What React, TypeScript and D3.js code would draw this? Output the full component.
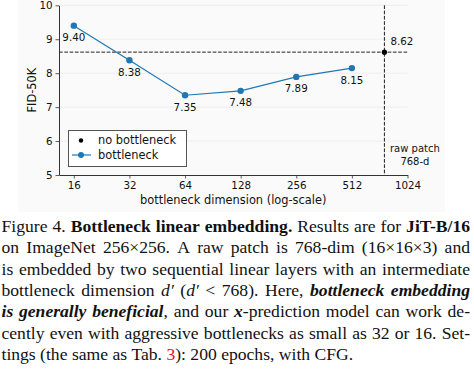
import React, { useRef, useEffect } from "react";
import * as d3 from "d3";

const dims = [16, 32, 64, 128, 256, 512];
const fid = [9.4, 8.38, 7.35, 7.48, 7.89, 8.15];
const rawDim = 768;
const rawFid = 8.62;
const xTicks = [16, 32, 64, 128, 256, 512, 1024];
const yTicks = [5, 6, 7, 8, 9, 10];
const legendLabels = ["no bottleneck", "bottleneck"];

// caption lines: runs of [text, style]  n normal, b bold, i italic, bi bold italic, r red
const captionLines: [string, string][][] = [
  [["Figure 4. ", "n"], ["Bottleneck linear embedding.", "b"], [" Results are for ", "n"], ["JiT-B/16", "b"]],
  [["on ImageNet 256×256. A raw patch is 768-dim (16×16×3) and", "n"]],
  [["is embedded by two sequential linear layers with an intermediate", "n"]],
  [["bottleneck dimension ", "n"], ["d′", "i"], [" (", "n"], ["d′", "i"], [" < 768). Here, ", "n"], ["bottleneck embedding", "bi"]],
  [["is generally beneficial", "bi"], [", and our ", "n"], ["x", "bi"], ["-prediction model can work de-", "n"]],
  [["cently even with aggressive bottlenecks as small as 32 or 16. Set-", "n"]],
  [["tings (the same as Tab. ", "n"], ["3", "r"], ["): 200 epochs, with CFG.", "n"]],
];

const W = 474;
const H = 371;
const blue = "#1f77b4";
const sans = "DejaVu Sans";
const serif = "Liberation Serif";

const App = () => {
  const svgRef = useRef<SVGSVGElement>(null);

  useEffect(() => {
    const svg = d3.select(svgRef.current);
    svg.selectAll("*").remove();

    const left = 59;
    const right = 407.5;
    const top = 5.3;
    const bottom = 175;

    const x = d3.scaleLog().base(2).domain([13.3, 1024]).range([left, right]);
    const y = d3.scaleLinear().domain([5, 10]).range([bottom, top]);

    // faint figure background
    svg.append("rect").attr("x", 18).attr("y", 0).attr("width", 427).attr("height", 212).attr("fill", "#fafafa");

    // grid
    svg
      .append("g")
      .selectAll("line")
      .data(yTicks.slice(1))
      .join("line")
      .attr("x1", left)
      .attr("x2", right)
      .attr("y1", (d) => y(d))
      .attr("y2", (d) => y(d))
      .attr("stroke", "#ebebeb")
      .attr("stroke-width", 0.8);

    // reference dashed lines
    svg
      .append("line")
      .attr("x1", left)
      .attr("x2", right)
      .attr("y1", y(rawFid))
      .attr("y2", y(rawFid))
      .attr("stroke", "#222")
      .attr("stroke-width", 1)
      .attr("stroke-dasharray", "3.7,1.6");
    svg
      .append("line")
      .attr("x1", x(rawDim))
      .attr("x2", x(rawDim))
      .attr("y1", top)
      .attr("y2", bottom)
      .attr("stroke", "#222")
      .attr("stroke-width", 1)
      .attr("stroke-dasharray", "3.7,1.6");

    // axes
    const yAxis = svg
      .append("g")
      .attr("transform", `translate(${left},0)`)
      .call(d3.axisLeft(y).tickValues(yTicks).tickFormat(d3.format("d")).tickSizeInner(3.5).tickSizeOuter(0).tickPadding(3));
    const xAxis = svg
      .append("g")
      .attr("transform", `translate(0,${bottom})`)
      .call(d3.axisBottom(x).tickValues(xTicks).tickFormat(d3.format("d")).tickSizeInner(3.5).tickSizeOuter(0).tickPadding(3));
    [yAxis, xAxis].forEach((a) => {
      a.select(".domain").attr("stroke", "#333").attr("stroke-width", 1);
      a.selectAll(".tick line").attr("stroke", "#333").attr("stroke-width", 0.8);
      a.selectAll(".tick text").attr("font-family", sans).attr("font-size", 10.3).attr("fill", "#111");
    });

    svg
      .append("text")
      .attr("x", (left + right) / 2)
      .attr("y", 203.5)
      .attr("text-anchor", "middle")
      .attr("font-family", sans)
      .attr("font-size", 11.4)
      .attr("fill", "#111")
      .text("bottleneck dimension (log-scale)");
    svg
      .append("text")
      .attr("transform", `translate(36,${(top + bottom) / 2}) rotate(-90)`)
      .attr("text-anchor", "middle")
      .attr("font-family", sans)
      .attr("font-size", 11.4)
      .attr("fill", "#111")
      .text("FID-50K");

    // bottleneck series
    const line = d3
      .line<number>()
      .x((d, i) => x(dims[i]))
      .y((d) => y(d));
    svg.append("path").datum(fid).attr("fill", "none").attr("stroke", blue).attr("stroke-width", 1.2).attr("d", line);
    svg
      .append("g")
      .selectAll("circle")
      .data(fid)
      .join("circle")
      .attr("cx", (d, i) => x(dims[i]))
      .attr("cy", (d) => y(d))
      .attr("r", 3.2)
      .attr("fill", blue);
    svg
      .append("g")
      .selectAll("text")
      .data(fid)
      .join("text")
      .attr("x", (d, i) => x(dims[i]))
      .attr("y", (d) => y(d) + 15.5)
      .attr("text-anchor", "middle")
      .attr("font-family", sans)
      .attr("font-size", 10.3)
      .attr("fill", "#111")
      .text((d) => d.toFixed(2));

    // raw patch point
    svg.append("circle").attr("cx", x(rawDim)).attr("cy", y(rawFid)).attr("r", 2.6).attr("fill", "#000");
    svg
      .append("text")
      .attr("x", x(rawDim) + 6)
      .attr("y", y(rawFid) - 7)
      .attr("font-family", sans)
      .attr("font-size", 10.3)
      .attr("fill", "#111")
      .text(rawFid.toFixed(2));
    const raw = svg
      .append("text")
      .attr("text-anchor", "middle")
      .attr("font-family", sans)
      .attr("font-size", 10)
      .attr("fill", "#111");
    raw.append("tspan").attr("x", x(rawDim) + 30.5).attr("y", 152).text("raw patch");
    raw.append("tspan").attr("x", x(rawDim) + 30.5).attr("y", 164.5).text(`${rawDim}-d`);

    // legend
    const lg = svg.append("g");
    lg.append("rect")
      .attr("x", 68.5)
      .attr("y", 130.5)
      .attr("width", 118)
      .attr("height", 36)
      .attr("fill", "#fff")
      .attr("stroke", "#555")
      .attr("stroke-width", 1);
    lg.append("circle").attr("cx", 81).attr("cy", 140.5).attr("r", 2.2).attr("fill", "#000");
    lg.append("line").attr("x1", 72).attr("x2", 91).attr("y1", 155).attr("y2", 155).attr("stroke", blue).attr("stroke-width", 1.2);
    lg.append("circle").attr("cx", 81).attr("cy", 155).attr("r", 3).attr("fill", blue);
    lg.selectAll("text.lab")
      .data(legendLabels)
      .join("text")
      .attr("class", "lab")
      .attr("x", 98)
      .attr("y", (d, i) => 140.5 + i * 14.5)
      .attr("dy", "0.35em")
      .attr("font-family", sans)
      .attr("font-size", 11.4)
      .attr("fill", "#111")
      .text((d) => d);

    // caption, justified word by word
    const capLeft = 1.5;
    const capRight = 470;
    const fs = 17.6;
    const styleRun = (t: any, st: string) => {
      t.attr("font-weight", st === "b" || st === "bi" ? "bold" : "normal")
        .attr("font-style", st === "i" || st === "bi" ? "italic" : "normal")
        .attr("fill", st === "r" ? "#e8101a" : "#111");
    };
    const cap = svg.append("g").attr("font-family", serif).attr("font-size", fs);
    captionLines.forEach((runs, li) => {
      const words: [string, string][][] = [[]];
      runs.forEach(([txt, st]) => {
        txt.split(" ").forEach((p, i) => {
          if (i > 0) words.push([]);
          if (p) words[words.length - 1].push([p, st]);
        });
      });
      const ws = words.filter((w) => w.length);
      const base = 232 + li * 21.3;
      const nodes = ws.map((w) => {
        const t = cap.append("text").attr("y", base);
        w.forEach(([p, st]) => styleRun(t.append("tspan").text(p), st));
        return t;
      });
      const widths = nodes.map((t) => (t.node() as SVGTextElement).getComputedTextLength());
      const total = d3.sum(widths);
      const justify = li < captionLines.length - 1;
      const gap = justify ? (capRight - capLeft - total) / (ws.length - 1) : fs * 0.25;
      let cx = capLeft;
      nodes.forEach((t, i) => {
        t.attr("x", cx);
        cx += widths[i] + gap;
      });
    });
  }, []);

  return (
    <svg
      ref={svgRef}
      width={W}
      height={H}
      style={{ position: "absolute", left: 0, top: 0, background: "#fff" }}
    ></svg>
  );
};

export default App;
